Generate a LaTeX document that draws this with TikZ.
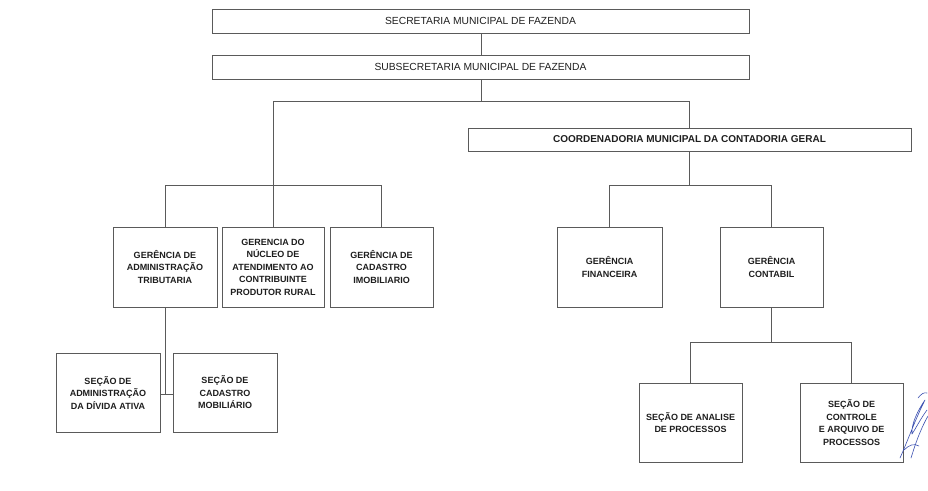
\documentclass[tikz,border=0pt]{standalone}
\usepackage{fontspec}
\setmainfont{Liberation Sans}
\definecolor{lin}{HTML}{5A5A5A}
\definecolor{txt}{HTML}{1E1E1E}
\definecolor{sig}{HTML}{3A4FB0}
\begin{document}
\begin{tikzpicture}[x=1pt,y=-1pt,
  box/.style={draw=lin,line width=0.9pt,rectangle,inner sep=0pt,text=txt,align=center},
  wide/.style={box,minimum height=24pt,font=\fontsize{10.3}{12}\selectfont},
  unit/.style={box,minimum width=104pt,minimum height=80pt,font=\fontsize{9}{12.5}\selectfont\bfseries},
  conn/.style={draw=lin,line width=0.8pt},
  sigline/.style={draw=sig,line width=0.6pt,line cap=round,line join=round}]
\useasboundingbox (0,0) rectangle (928,490);
% top level
\node[wide,minimum width=537pt] (sec) at (480.5,21) {SECRETARIA MUNICIPAL DE FAZENDA};
\node[wide,minimum width=537pt] (sub) at (480.5,67) {SUBSECRETARIA MUNICIPAL DE FAZENDA};
\node[wide,minimum width=443pt,minimum height=23pt,font=\fontsize{10}{12}\selectfont\bfseries] (coord) at (689.5,139.5) {COORDENADORIA MUNICIPAL DA CONTADORIA GERAL};
% left branch
\node[unit] (g1) at (165,267) {GERÊNCIA DE\\ADMINISTRAÇÃO\\TRIBUTARIA};
\node[unit,minimum width=102pt] (g2) at (273,267) {GERENCIA DO\\NÚCLEO DE\\ATENDIMENTO AO\\CONTRIBUINTE\\PRODUTOR RURAL};
\node[unit,minimum width=103pt] (g3) at (381.5,267) {GERÊNCIA DE\\CADASTRO\\IMOBILIARIO};
\node[unit,minimum height=79pt] (s1) at (108,392.5) {SEÇÃO DE\\ADMINISTRAÇÃO\\DA DÍVIDA ATIVA};
\node[unit,minimum height=79pt] (s2) at (225,392.5) {SEÇÃO DE\\CADASTRO\\MOBILIÁRIO};
% right branch
\node[unit,minimum width=105pt] (g4) at (609.5,267) {GERÊNCIA\\FINANCEIRA};
\node[unit,minimum width=103pt] (g5) at (771.5,267) {GERÊNCIA\\CONTABIL};
\node[unit,minimum width=103pt,minimum height=79pt] (s3) at (690.5,422.5) {SEÇÃO DE ANALISE\\DE PROCESSOS};
\node[unit,minimum width=103pt,minimum height=79pt] (s4) at (851.5,422.5) {SEÇÃO DE\\CONTROLE\\E ARQUIVO DE\\PROCESSOS};
% junction coordinates
\coordinate (j0) at (481,101);
\coordinate (jL) at (273,185);
\coordinate (jR) at (689.5,185);
\coordinate (j1) at (165,394);
\coordinate (j2) at (771.5,342);
% connectors
\draw[conn] (sec.south -| j0) -- (sub.north -| j0);
\draw[conn] (sub.south -| j0) -- (j0);
\draw[conn] (g2.north) -- (g2.north |- j0) -- (coord.north |- j0) -- (coord.north);
\draw[conn] (g1.north) -- (g1.north |- jL) -- (g3.north |- jL) -- (g3.north);
\draw[conn] (coord.south) -- (jR);
\draw[conn] (g4.north) -- (g4.north |- jR) -- (g5.north |- jR) -- (g5.north);
\draw[conn] (g1.south) -- (j1);
\draw[conn] (s1.east |- j1) -- (s2.west |- j1);
\draw[conn] (g5.south) -- (j2);
\draw[conn] (s3.north) -- (s3.north |- j2) -- (s4.north |- j2) -- (s4.north);
% signature scribble
\draw[sigline] (900,458) .. controls (908,440) and (915,420) .. (925,400)
  .. controls (918,410) and (911,424) .. (912,434)
  .. controls (916,428) and (921,418) .. (927,410);
\draw[sigline] (911,458) .. controls (915,445) and (920,430) .. (928,416);
\draw[sigline] (904,450) .. controls (909,445) and (914,443) .. (919,446);
\draw[sigline] (918,398) .. controls (921,394) and (924,392) .. (927,393);
\end{tikzpicture}
\end{document}
